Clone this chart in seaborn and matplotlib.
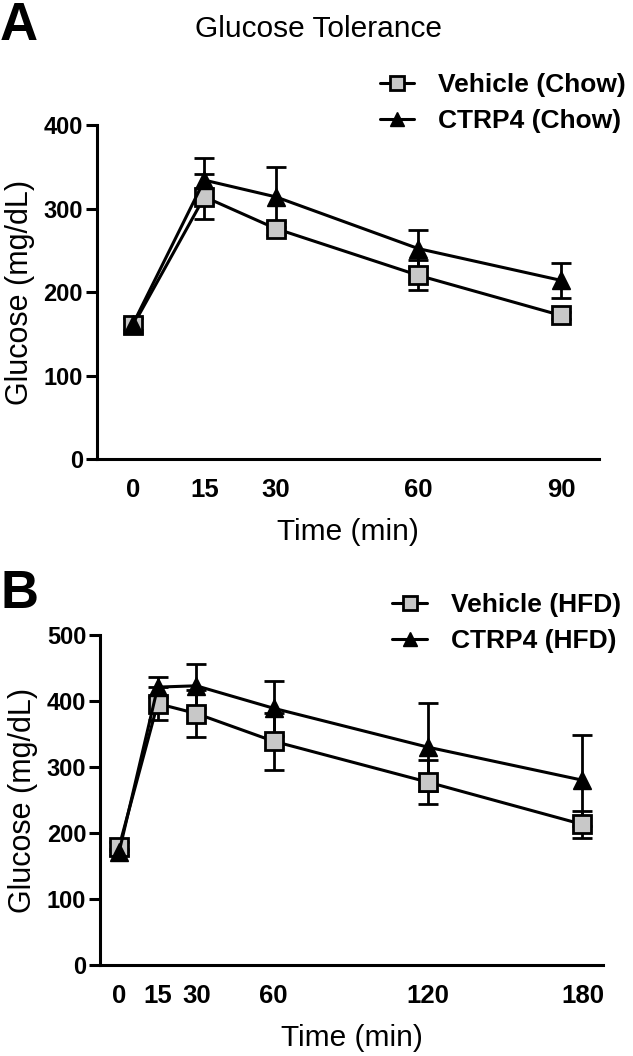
import matplotlib
matplotlib.use("Agg")
import matplotlib.pyplot as plt
import seaborn as sns
import pandas as pd

# Panel A: chow-fed mice (mean +/- SEM)
time_chow = [0, 15, 30, 60, 90]
vehicle_chow = [160, 314, 276, 220, 172]
vehicle_chow_sem = [9, 27, 8, 18, 4]
ctrp4_chow = [162, 334, 314, 252, 214]
ctrp4_chow_sem = [7, 27, 36, 22, 21]

# Panel B: high-fat diet mice (mean +/- SEM)
time_hfd = [0, 15, 30, 60, 120, 180]
vehicle_hfd = [179, 396, 381, 339, 277, 213]
vehicle_hfd_sem = [7, 25, 36, 43, 33, 21]
ctrp4_hfd = [171, 421, 423, 389, 330, 280]
ctrp4_hfd_sem = [5, 15, 33, 42, 67, 69]

sns.set_style("ticks", {"axes.edgecolor": "black", "text.color": "black",
                        "axes.labelcolor": "black", "xtick.color": "black",
                        "ytick.color": "black"})
plt.rcParams["font.family"] = ["Liberation Sans", "DejaVu Sans"]

fig = plt.figure(figsize=(6.33, 10.56), dpi=100)
ax_a = fig.add_axes([0.1532, 0.5653, 0.7930, 0.3163])
ax_b = fig.add_axes([0.1580, 0.0862, 0.7946, 0.3125])


def draw_panel(ax, t, veh, veh_sem, ctrp, ctrp_sem, labels, ticks_y, ylim, xlim):
    df = pd.DataFrame({"time": t, "veh": veh, "ctrp": ctrp})
    ax.errorbar(t, veh, yerr=veh_sem, fmt="none", ecolor="black",
                elinewidth=2, capsize=7, capthick=2, zorder=2)
    ax.errorbar(t, ctrp, yerr=ctrp_sem, fmt="none", ecolor="black",
                elinewidth=2, capsize=7, capthick=2, zorder=2)
    sns.lineplot(data=df, x="time", y="veh", ax=ax, color="black", lw=2.2,
                 marker="s", markersize=13, markerfacecolor="#c8c8c8",
                 markeredgecolor="black", markeredgewidth=2,
                 label=labels[0], zorder=3)
    sns.lineplot(data=df, x="time", y="ctrp", ax=ax, color="black", lw=2.2,
                 marker="^", markersize=13, markerfacecolor="black",
                 markeredgecolor="black", markeredgewidth=1,
                 label=labels[1], zorder=4)
    ax.set_xlim(*xlim)
    ax.set_ylim(*ylim)
    ax.set_xticks(t)
    ax.set_xticklabels([str(v) for v in t])
    ax.set_yticks(ticks_y)
    ax.tick_params(axis="x", length=0, pad=14, labelsize=18.5)
    ax.tick_params(axis="y", length=8, width=2.2, pad=2, labelsize=17)
    for lab in ax.get_xticklabels() + ax.get_yticklabels():
        lab.set_fontweight("bold")
    sns.despine(ax=ax)
    ax.spines["left"].set_linewidth(2.2)
    ax.spines["bottom"].set_linewidth(2.2)
    ax.set_xlabel("Time (min)", fontsize=21.5, labelpad=11)
    ax.set_ylabel("Glucose (mg/dL)", fontsize=22, labelpad=6)
    ax.get_legend().remove()


draw_panel(ax_a, time_chow, vehicle_chow, vehicle_chow_sem, ctrp4_chow,
           ctrp4_chow_sem, ["Vehicle (Chow)", "CTRP4 (Chow)"],
           [0, 100, 200, 300, 400], (0, 400), (-7.6, 98))
draw_panel(ax_b, time_hfd, vehicle_hfd, vehicle_hfd_sem, ctrp4_hfd,
           ctrp4_hfd_sem, ["Vehicle (HFD)", "CTRP4 (HFD)"],
           [0, 100, 200, 300, 400, 500], (0, 500), (-7.4, 188))

for ax, anchor in [(ax_a, (0.600, 0.931)), (ax_b, (0.620, 0.438))]:
    handles, labels = ax.get_legend_handles_labels()
    ax.legend(handles, labels, loc="upper left", bbox_to_anchor=anchor,
              bbox_transform=fig.transFigure, frameon=False, borderpad=0,
              borderaxespad=0, handlelength=1.3, handletextpad=0.9,
              labelspacing=0.45, markerscale=0.75,
              prop={"size": 19, "weight": "bold"})

fig.text(0.503, 0.973, "Glucose Tolerance", ha="center", va="center",
         fontsize=21.5)
fig.text(0.0, 1 - 40 / 1056, "A", ha="left", va="baseline", fontsize=38,
         fontweight="bold")
fig.text(0.0, 1 - 608 / 1056, "B", ha="left", va="baseline", fontsize=38,
         fontweight="bold")

fig.savefig("out.png", dpi=100)
